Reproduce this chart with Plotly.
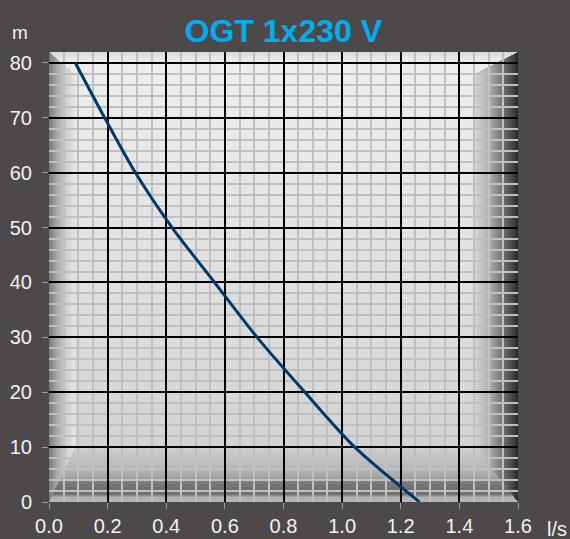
import base64, struct, zlib
import numpy as np
import plotly.graph_objects as go

# ---- data ----
flow_ls = [0.09, 0.19, 0.295, 0.42, 0.565, 0.71, 0.873, 1.043, 1.264]
head_m = [80, 70, 60, 50, 40, 30, 20, 10, 0]
x_ticks = [0.0, 0.2, 0.4, 0.6, 0.8, 1.0, 1.2, 1.4, 1.6]
y_ticks = [0, 10, 20, 30, 40, 50, 60, 70, 80]
title_text = "OGT 1x230 V"

# ---- background "3D box" gradient image (decoration) ----
W, H = 469, 450
L, R, B, T = 26.0, 44.0, 55.0, 22.0
px = np.arange(W)[None, :] + 0.5
py = np.arange(H)[:, None] + 0.5
ul = np.broadcast_to(px / L, (H, W))
ur = np.broadcast_to((W - px) / R, (H, W))
ub = np.broadcast_to((H - py) / B, (H, W))
ut = np.broadcast_to(py / T, (H, W))
stack = np.stack([ul, ur, ub, ut])
wall = np.argmin(stack, axis=0)
umin = np.min(stack, axis=0)

back = 240 - (240 - 212) * np.clip(py / (H - B), 0, 1)
img = np.broadcast_to(back, (H, W)).astype(float).copy()

def interp(t, xs, ys):
    return np.interp(t, xs, ys)

inside = umin < 1
left = inside & (wall == 0)
right = inside & (wall == 1)
bot = inside & (wall == 2)
top = inside & (wall == 3)
img[left] = interp(ul[left], [0, 0.3, 0.7, 1.0], [120, 170, 212, 230])
img[right] = interp(ur[right], [0, 0.1, 0.4, 0.7, 1.0], [40, 65, 125, 182, 215])
img[bot] = interp(ub[bot], [0, 0.08, 0.11, 0.14, 0.25, 0.38, 0.45, 0.6, 1.0],
                  [180, 180, 150, 112, 112, 128, 165, 182, 208])
img[top] = interp(ut[top], [0, 0.3, 1.0], [218, 234, 240])
img = np.clip(img, 0, 255).astype(np.uint8)

raw = b"".join(b"\x00" + img[r].tobytes() for r in range(H))
def chunk(tag, data):
    c = struct.pack(">I", len(data)) + tag + data
    return c + struct.pack(">I", zlib.crc32(tag + data) & 0xFFFFFFFF)
png = (b"\x89PNG\r\n\x1a\n" + chunk(b"IHDR", struct.pack(">IIBBBBB", W, H, 8, 0, 0, 0, 0))
       + chunk(b"IDAT", zlib.compress(raw, 9)) + chunk(b"IEND", b""))
uri = "data:image/png;base64," + base64.b64encode(png).decode()

fig = go.Figure()
fig.add_trace(go.Scatter(x=flow_ls, y=head_m, mode="lines",
                         line=dict(color="#003a6b", width=3, shape="spline", smoothing=0.8),
                         hoverinfo="skip", showlegend=False))

fig.add_layout_image(dict(source=uri, xref="x", yref="y", x=0, y=82, sizex=1.6, sizey=82,
                          xanchor="left", yanchor="top", sizing="stretch", layer="below"))
# floor front strip and left edge (covers grid lines)
fig.add_shape(type="rect", xref="x", yref="paper", x0=0, x1=1.6, y0=0, y1=0.011,
              fillcolor="#b4b4b4", line_width=0, layer="between")
fig.add_shape(type="rect", xref="paper", yref="paper", x0=0, x1=0.004, y0=0, y1=1,
              fillcolor="#8a8a8a", line_width=0, layer="between")

FAM = "Liberation Sans, Arial, sans-serif"
font = dict(family=FAM, size=20, color="#f2f2f2")
fig.update_layout(
    width=570, height=539,
    margin=dict(l=49, r=52, t=52, b=37, autoexpand=False),
    paper_bgcolor="#4d494a", plot_bgcolor="#dcdcdc",
    title=dict(text=title_text, x=0.497, xanchor="center", y=0.942, yanchor="middle",
               font=dict(family=FAM, size=32, color="#00aeef", weight="bold")),
    font=font,
    xaxis=dict(range=[0, 1.6], tickvals=x_ticks, ticktext=[f"{v:.1f}" for v in x_ticks],
               showgrid=True, gridcolor="#000000", gridwidth=2, zeroline=False,
               ticks="outside", ticklen=6, tickcolor="#9a9a9a", tickwidth=1,
               minor=dict(dtick=0.05, tick0=0, showgrid=True, gridcolor="#c0c0c0", gridwidth=2, ticks=""),
               showline=False, tickfont=font, fixedrange=True, automargin=False),
    yaxis=dict(range=[0, 82], tickvals=y_ticks,
               showgrid=True, gridcolor="#000000", gridwidth=2, zeroline=False,
               ticks="outside", ticklen=6, tickcolor="#9a9a9a", tickwidth=1,
               minor=dict(dtick=2, tick0=0, showgrid=True, gridcolor="#c0c0c0", gridwidth=2, ticks=""),
               showline=False, tickfont=font, ticklabelstandoff=6, fixedrange=True, automargin=False),
    annotations=[
        dict(text="m", xref="paper", yref="paper", x=-0.062, y=1.0145, xanchor="center",
             yanchor="bottom", showarrow=False, font=dict(size=19, color="#f2f2f2", family=FAM)),
        dict(text="l/s", xref="paper", yref="paper", x=1.0575, y=-0.032, xanchor="left",
             yanchor="top", showarrow=False, font=dict(size=20, color="#f2f2f2", family=FAM)),
    ],
)
fig.write_html("out.html", config={"displayModeBar": False},
               post_script="document.body.style.margin='0';document.body.style.overflow='hidden';")
